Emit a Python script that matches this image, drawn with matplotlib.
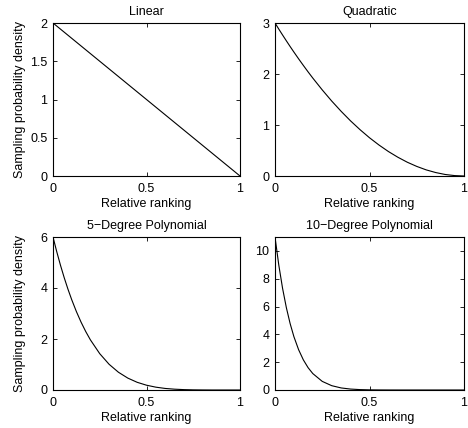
import matplotlib
matplotlib.use("Agg")
import matplotlib.pyplot as plt

plt.rcParams['font.family'] = ['Liberation Sans', 'DejaVu Sans']
plt.rcParams['font.size'] = 9

# values
ranking = [0, 0.02, 0.04, 0.06, 0.08, 0.1, 0.125, 0.15, 0.175, 0.2,
           0.25, 0.3, 0.35, 0.4, 0.45, 0.5, 0.55, 0.6, 0.65, 0.7,
           0.75, 0.8, 0.85, 0.9, 0.95, 1.0]
linear_x = [0, 1]
linear_y = [2, 0]
quadratic_y = [3.0, 2.881, 2.765, 2.651, 2.539, 2.43, 2.297, 2.168, 2.042, 1.92,
               1.688, 1.47, 1.268, 1.08, 0.908, 0.75, 0.608, 0.48, 0.368, 0.27,
               0.188, 0.12, 0.068, 0.03, 0.008, 0.0]
poly5_y = [6.0, 5.424, 4.892, 4.403, 3.954, 3.543, 3.077, 2.662, 2.293, 1.966,
           1.424, 1.008, 0.696, 0.467, 0.302, 0.188, 0.111, 0.061, 0.032, 0.015,
           0.006, 0.002, 0.0, 0.0, 0.0, 0.0]
poly10_y = [11.0, 8.988, 7.313, 5.925, 4.778, 3.835, 2.894, 2.166, 1.607, 1.181,
            0.619, 0.311, 0.148, 0.067, 0.028, 0.011, 0.004, 0.001, 0.0, 0.0,
            0.0, 0.0, 0.0, 0.0, 0.0, 0.0]

titles = ['Linear', 'Quadratic', '5\u2212Degree Polynomial', '10\u2212Degree Polynomial']
yticks = [[0, 0.5, 1, 1.5, 2], [0, 1, 2, 3], [0, 2, 4, 6], [0, 2, 4, 6, 8, 10]]
ylims = [2, 3, 6, 11]
xs = [linear_x, ranking, ranking, ranking]
ys = [linear_y, quadratic_y, poly5_y, poly10_y]

# axes boxes in pixels: left, top, right, bottom
W, H = 468, 428
boxes = [(53, 23, 240, 176), (275, 23, 464, 176),
         (53, 237, 240, 390), (275, 237, 464, 390)]

fig = plt.figure(figsize=(W / 100, H / 100), dpi=100)

for i in range(4):
    l, t, r, b = boxes[i]
    ax = fig.add_axes([l / W, 1 - b / H, (r - l) / W, (b - t) / H])
    ax.plot(xs[i], ys[i], color='black', linewidth=0.8)
    ax.set_xlim(0, 1)
    ax.set_ylim(0, ylims[i])
    ax.set_xticks([0, 0.5, 1])
    ax.set_xticklabels(['0', '0.5', '1'])
    ax.set_yticks(yticks[i])
    ax.set_yticklabels([('%g' % v) for v in yticks[i]])
    ax.tick_params(direction='in', top=True, right=True, length=3, width=0.6)
    ax.tick_params(axis='x', pad=5)
    ax.tick_params(axis='y', pad=4)
    for s in ax.spines.values():
        s.set_linewidth(0.8)
    ax.set_title(titles[i], fontsize=9, pad=6)
    ax.set_xlabel('Relative ranking', labelpad=2)
    if i % 2 == 0:
        ax.set_ylabel('Sampling probability density')
        ax.yaxis.set_label_coords(-0.145, 0.5)

plt.savefig('out.png', dpi=100)
